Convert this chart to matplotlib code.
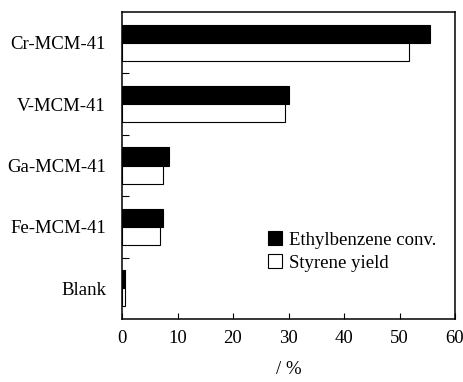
import numpy as np
import matplotlib.pyplot as plt
from matplotlib.ticker import FixedLocator

plt.rcParams['font.family'] = ['Liberation Serif', 'DejaVu Serif']

# catalysts, top to bottom
catalysts = ['Cr-MCM-41', 'V-MCM-41', 'Ga-MCM-41', 'Fe-MCM-41', 'Blank']
eb_conv = [55.5, 30.1, 8.4, 7.4, 0.5]
styrene_yield = [51.7, 29.4, 7.4, 6.9, 0.6]

fig = plt.figure(figsize=(4.63, 3.82), dpi=100)
ax = fig.add_axes([122 / 463, 63 / 382, 333 / 463, 307 / 382])

y = np.arange(len(catalysts))
h = 0.295
ax.barh(y - h / 2, eb_conv, height=h, color='black', edgecolor='black',
        linewidth=0.8, label='Ethylbenzene conv.')
ax.barh(y + h / 2, styrene_yield, height=h, color='white', edgecolor='black',
        linewidth=0.8, label='Styrene yield')

ax.set_ylim(len(catalysts) - 0.5, -0.5)
ax.set_xlim(0, 60)
ax.set_xticks(np.arange(0, 61, 10))
ax.set_yticks(y)
ax.set_yticklabels(catalysts)
ax.yaxis.set_minor_locator(FixedLocator(y[:-1] + 0.5))

ax.tick_params(axis='x', direction='in', length=4.5, width=0.8, pad=8,
               labelsize=13.5, top=False)
ax.tick_params(axis='y', which='major', length=0, pad=11.5, labelsize=13.5)
ax.tick_params(axis='y', which='minor', direction='in', length=5, width=0.8,
               right=False)
for s in ax.spines.values():
    s.set_linewidth(1.1)

ax.set_xlabel('/ %', fontsize=13.5, labelpad=10)

ax.legend(loc='center left', bbox_to_anchor=(0.415, 0.22), frameon=False,
          fontsize=13.5, handlelength=0.75, handleheight=0.75,
          handletextpad=0.4, labelspacing=0.3, borderaxespad=0)

fig.savefig('out.png', dpi=100)
